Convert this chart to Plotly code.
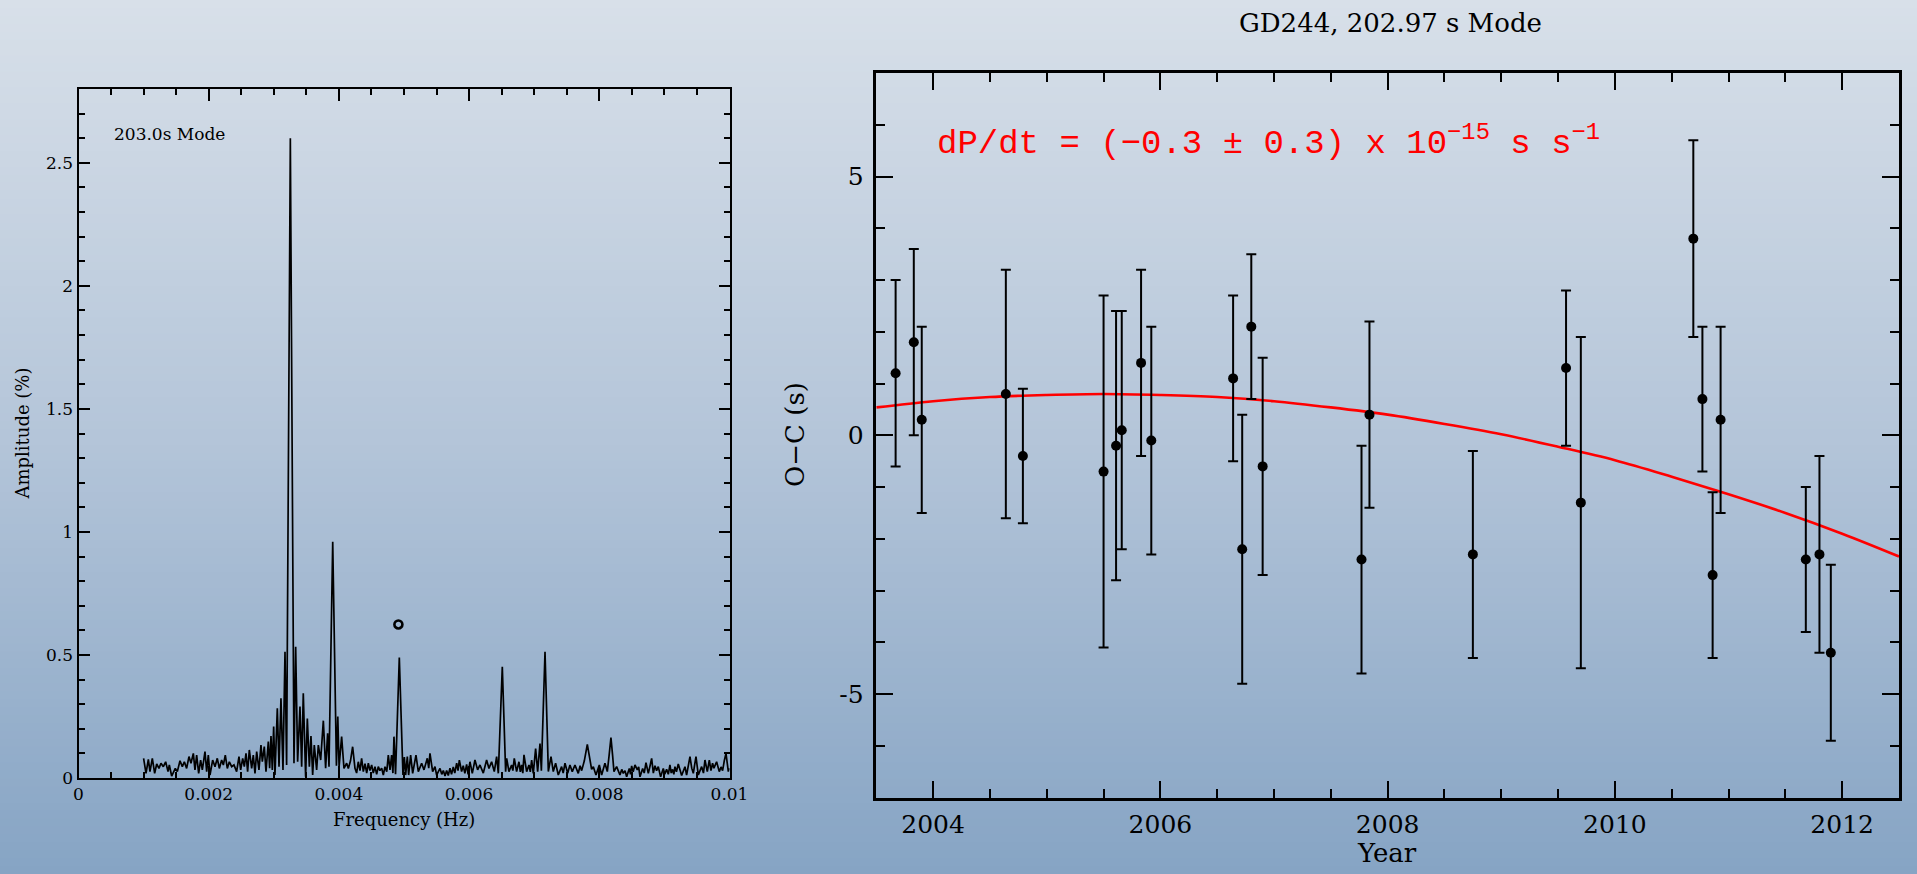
import plotly.graph_objects as go

W, H = 1917, 874

# ---------------- Left panel: amplitude spectrum ----------------
# frequency in micro-Hz, amplitude in percent
SPEC_FREQ_UHZ = [
    1000, 1037, 1073, 1098, 1134, 1170, 1201, 1236, 1267, 1303,
    1339, 1375, 1395, 1431, 1487, 1518, 1559, 1595, 1626, 1661,
    1697, 1728, 1764, 1789, 1815, 1846, 1876, 1902, 1943, 1969,
    1994, 2020, 2061, 2097, 2132, 2163, 2199, 2225, 2255, 2286,
    2317, 2353, 2388, 2429, 2465, 2491, 2522, 2547, 2573, 2598,
    2624, 2660, 2685, 2711, 2737, 2772, 2803, 2824, 2854, 2880,
    2916, 2936, 2957, 2977, 2998, 3018, 3054, 3080, 3110, 3141,
    3172, 3197, 3254, 3310, 3336, 3366, 3402, 3428, 3453, 3489,
    3515, 3546, 3571, 3597, 3622, 3658, 3684, 3720, 3761, 3796,
    3827, 3848, 3905, 3962, 3983, 4003, 4042, 4078, 4119, 4145,
    4178, 4211, 4247, 4272, 4298, 4324, 4349, 4375, 4401, 4427,
    4452, 4477, 4503, 4528, 4554, 4580, 4605, 4630, 4657, 4682,
    4708, 4735, 4759, 4785, 4810, 4830, 4846, 4870, 4928, 4984,
    5005, 5025, 5051, 5071, 5102, 5133, 5184, 5220, 5271, 5307,
    5358, 5380, 5399, 5440, 5476, 5501, 5553, 5580, 5604, 5630,
    5655, 5680, 5706, 5730, 5757, 5780, 5809, 5830, 5850, 5885,
    5910, 5935, 5962, 5985, 6013, 6049, 6090, 6131, 6167, 6218,
    6269, 6305, 6346, 6387, 6423, 6449, 6510, 6561, 6577, 6612,
    6653, 6672, 6694, 6730, 6766, 6787, 6807, 6825, 6843, 6884,
    6920, 6940, 6961, 6986, 7022, 7053, 7089, 7110, 7166, 7217,
    7258, 7293, 7329, 7370, 7421, 7445, 7473, 7514, 7549, 7585,
    7626, 7677, 7705, 7729, 7770, 7790, 7816, 7840, 7857, 7882,
    7908, 7949, 8000, 8036, 8087, 8123, 8150, 8179, 8205, 8225,
    8266, 8317, 8345, 8369, 8395, 8420, 8461, 8480, 8497, 8520,
    8548, 8584, 8605, 8625, 8666, 8690, 8717, 8753, 8780, 8804,
    8830, 8855, 8880, 8906, 8942, 8983, 9005, 9034, 9060, 9085,
    9105, 9126, 9145, 9162, 9185, 9213, 9265, 9316, 9341, 9393,
    9420, 9444, 9485, 9521, 9572, 9600, 9623, 9659, 9690, 9715,
    9740, 9761, 9802, 9843, 9870, 9894, 9920, 9946, 9982, 10000,
]
SPEC_AMP_PCT = [
    0.080, 0.019, 0.076, 0.026, 0.080, 0.019, 0.057, 0.039, 0.060, 0.046,
    0.066, 0.026, 0.053, 0.008, 0.039, 0.026, 0.070, 0.046, 0.066, 0.039,
    0.087, 0.060, 0.100, 0.033, 0.093, 0.019, 0.073, 0.033, 0.107, 0.026,
    0.093, 0.012, 0.073, 0.046, 0.080, 0.039, 0.073, 0.053, 0.093, 0.039,
    0.066, 0.046, 0.053, 0.026, 0.087, 0.033, 0.080, 0.046, 0.100, 0.026,
    0.114, 0.039, 0.093, 0.019, 0.107, 0.033, 0.134, 0.066, 0.128, 0.026,
    0.148, 0.040, 0.171, 0.033, 0.209, 0.012, 0.283, 0.046, 0.324, 0.033,
    0.513, 0.053, 2.600, 0.060, 0.533, 0.066, 0.290, 0.046, 0.344, 0.005,
    0.242, 0.046, 0.171, 0.012, 0.134, 0.033, 0.134, 0.073, 0.233, 0.040,
    0.182, 0.046, 0.960, 0.050, 0.250, 0.046, 0.168, 0.039, 0.060, 0.039,
    0.070, 0.127, 0.039, 0.020, 0.066, 0.030, 0.080, 0.026, 0.058, 0.020,
    0.060, 0.030, 0.053, 0.020, 0.046, 0.015, 0.046, 0.030, 0.040, 0.012,
    0.046, 0.026, 0.093, 0.033, 0.093, 0.020, 0.168, 0.015, 0.490, 0.012,
    0.085, 0.012, 0.087, 0.012, 0.093, 0.019, 0.093, 0.026, 0.060, 0.033,
    0.080, 0.040, 0.100, 0.026, 0.046, 0.012, 0.039, 0.015, 0.030, 0.008,
    0.030, 0.010, 0.040, 0.015, 0.045, 0.020, 0.060, 0.030, 0.073, 0.026,
    0.050, 0.019, 0.055, 0.015, 0.066, 0.019, 0.073, 0.033, 0.053, 0.020,
    0.073, 0.039, 0.066, 0.026, 0.087, 0.019, 0.452, 0.026, 0.080, 0.026,
    0.053, 0.030, 0.080, 0.026, 0.066, 0.025, 0.053, 0.020, 0.094, 0.026,
    0.053, 0.025, 0.073, 0.019, 0.120, 0.026, 0.140, 0.030, 0.513, 0.026,
    0.087, 0.026, 0.060, 0.012, 0.046, 0.020, 0.060, 0.019, 0.053, 0.026,
    0.053, 0.019, 0.050, 0.030, 0.070, 0.100, 0.137, 0.100, 0.073, 0.035,
    0.046, 0.012, 0.053, 0.012, 0.060, 0.026, 0.090, 0.164, 0.090, 0.026,
    0.046, 0.012, 0.035, 0.019, 0.030, 0.005, 0.039, 0.015, 0.049, 0.025,
    0.053, 0.033, 0.045, 0.005, 0.039, 0.020, 0.062, 0.019, 0.050, 0.080,
    0.020, 0.050, 0.030, 0.046, 0.005, 0.039, 0.015, 0.035, 0.015, 0.053,
    0.020, 0.035, 0.015, 0.046, 0.025, 0.057, 0.010, 0.046, 0.012, 0.087,
    0.040, 0.019, 0.087, 0.012, 0.046, 0.020, 0.073, 0.026, 0.073, 0.030,
    0.060, 0.040, 0.066, 0.026, 0.045, 0.030, 0.070, 0.100, 0.026, 0.040,
]
MODE_MARK_FREQ_UHZ = [4914]
MODE_MARK_AMP_PCT = [0.624]

FREQ_TICKS = [0, 0.002, 0.004, 0.006, 0.008, 0.01]
FREQ_TICK_TEXT = ["0", "0.002", "0.004", "0.006", "0.008", "0.01"]
AMP_TICKS = [0, 0.5, 1, 1.5, 2, 2.5]
AMP_TICK_TEXT = ["0", "0.5", "1", "1.5", "2", "2.5"]

# ---------------- Right panel: O-C diagram ----------------
YEAR = [2003.67, 2003.83, 2003.90, 2004.64, 2004.79, 2005.50, 2005.61, 2005.66,
        2005.83, 2005.92, 2006.64, 2006.72, 2006.80, 2006.90, 2007.77, 2007.84,
        2008.75, 2009.57, 2009.70, 2010.69, 2010.77, 2010.86, 2010.93, 2011.68,
        2011.80, 2011.90]
OC_S = [1.2, 1.8, 0.3, 0.8, -0.4, -0.7, -0.2, 0.1,
        1.4, -0.1, 1.1, -2.2, 2.1, -0.6, -2.4, 0.4,
        -2.3, 1.3, -1.3, 3.8, 0.7, -2.7, 0.3, -2.4,
        -2.3, -4.2]
OC_ERR_S = [1.8, 1.8, 1.8, 2.4, 1.3, 3.4, 2.6, 2.3,
            1.8, 2.2, 1.6, 2.6, 1.4, 2.1, 2.2, 1.8,
            2.0, 1.5, 3.2, 1.9, 1.4, 1.6, 1.8, 1.4,
            1.9, 1.7]
FIT_YEAR = [2003.5, 2004.0, 2004.5, 2005.0, 2005.5, 2006.0, 2006.5, 2007.0,
            2007.5, 2008.0, 2008.5, 2009.0, 2009.5, 2010.0, 2010.5, 2011.0,
            2011.5, 2012.0, 2012.5]
FIT_OC_S = [0.54, 0.66, 0.74, 0.78, 0.80, 0.78, 0.74, 0.66,
            0.54, 0.40, 0.22, 0.02, -0.22, -0.48, -0.80, -1.14,
            -1.50, -1.90, -2.34]
YEAR_TICKS = [2004, 2006, 2008, 2010, 2012]
OC_TICKS = [-5, 0, 5]
OC_TICK_TEXT = ["-5", "0", "5"]

TITLE_RIGHT = "GD244, 202.97 s Mode"
LABEL_LEFT = "203.0s Mode"
FIT_TEXT = "dP/dt = (\u22120.3 \u00b1 0.3) x 10<sup>\u221215</sup> s s<sup>\u22121</sup>"

# ---------------- figure ----------------
SERIF = "DejaVu Serif"


def px(x):
    return x / W


def py(y):
    return 1 - y / H


fig = go.Figure()

fig.add_trace(go.Scatter(
    x=[f / 1e6 for f in SPEC_FREQ_UHZ], y=SPEC_AMP_PCT, mode="lines",
    line=dict(color="black", width=1.7), xaxis="x", yaxis="y",
    hoverinfo="skip", showlegend=False))
fig.add_trace(go.Scatter(
    x=[f / 1e6 for f in MODE_MARK_FREQ_UHZ], y=MODE_MARK_AMP_PCT, mode="markers",
    marker=dict(symbol="circle-open", size=8, color="black", line=dict(width=2.6)),
    xaxis="x", yaxis="y", hoverinfo="skip", showlegend=False))

fig.add_trace(go.Scatter(
    x=FIT_YEAR, y=FIT_OC_S, mode="lines",
    line=dict(color="#ff0000", width=2.6, shape="spline"),
    xaxis="x2", yaxis="y2", hoverinfo="skip", showlegend=False))
fig.add_trace(go.Scatter(
    x=YEAR, y=OC_S, mode="markers",
    marker=dict(symbol="circle", size=10, color="black"),
    error_y=dict(type="data", array=OC_ERR_S, visible=True,
                 thickness=2, width=5, color="black"),
    xaxis="x2", yaxis="y2", hoverinfo="skip", showlegend=False))

# background gradient (vertical), drawn as thin bands
STOPS = [(0.0, (216, 224, 233)), (0.5, (180, 197, 217)), (1.0, (134, 164, 196))]


def grad(t):
    for (t0, c0), (t1, c1) in zip(STOPS[:-1], STOPS[1:]):
        if t0 <= t <= t1:
            u = (t - t0) / (t1 - t0)
            return "rgb(%d,%d,%d)" % tuple(round(a + (b - a) * u) for a, b in zip(c0, c1))
    return "rgb(%d,%d,%d)" % STOPS[-1][1]


NB = 110
shapes = []
for i in range(NB):
    y0 = i / NB
    y1 = (i + 1) / NB
    shapes.append(dict(type="rect", xref="paper", yref="paper", x0=-0.01, x1=1.01,
                       y0=1 - y1 - 0.001, y1=1 - y0, layer="below",
                       line=dict(width=0), fillcolor=grad((i + 0.5) / NB)))

L_X0, L_X1, L_Y0, L_Y1 = 78.5, 729.5, 89, 778
R_X0, R_X1, R_Y0, R_Y1 = 876.3, 1899, 73, 797.7

small_font = dict(family=SERIF, size=17, color="black")
big_font = dict(family=SERIF, size=25, color="black")

common = dict(showline=True, linecolor="black", mirror="ticks", ticks="inside",
              tickcolor="black", showgrid=False, zeroline=False, automargin=False)

fig.update_layout(
    width=W, height=H, autosize=False,
    margin=dict(l=0, r=0, t=0, b=0, pad=0, autoexpand=False),
    paper_bgcolor="rgb(180,197,217)", plot_bgcolor="rgba(0,0,0,0)",
    shapes=shapes,
    xaxis=dict(domain=[px(L_X0), px(L_X1)], range=[0, 0.01], anchor="y",
               tickvals=FREQ_TICKS, ticktext=FREQ_TICK_TEXT, ticklen=12, tickwidth=1.5,
               linewidth=2, tickfont=small_font, ticklabelstandoff=0,
               minor=dict(dtick=0.0005, ticklen=6, tickwidth=1.5, ticks="inside",
                          tickcolor="black", showgrid=False),
               **common),
    yaxis=dict(domain=[py(L_Y1), py(L_Y0)], range=[0, 2.8], anchor="x",
               tickvals=AMP_TICKS, ticktext=AMP_TICK_TEXT, ticklen=11, tickwidth=1.5,
               linewidth=2, tickfont=small_font, ticklabelstandoff=0,
               minor=dict(dtick=0.1, ticklen=6, tickwidth=1.5, ticks="inside",
                          tickcolor="black", showgrid=False),
               **common),
    xaxis2=dict(domain=[px(R_X0), px(R_X1)], range=[2003.5, 2012.5], anchor="y2",
                tickvals=YEAR_TICKS, ticktext=[str(v) for v in YEAR_TICKS],
                ticklen=17, tickwidth=2, linewidth=2.5, tickfont=big_font,
                ticklabelstandoff=3,
                minor=dict(dtick=0.5, ticklen=9, tickwidth=2, ticks="inside",
                           tickcolor="black", showgrid=False),
                **common),
    yaxis2=dict(domain=[py(R_Y1), py(R_Y0)], range=[-7, 7], anchor="x2",
                tickvals=OC_TICKS, ticktext=OC_TICK_TEXT,
                ticklen=17, tickwidth=2, linewidth=2.5, tickfont=big_font,
                ticklabelstandoff=5,
                minor=dict(dtick=1, ticklen=9, tickwidth=2, ticks="inside",
                           tickcolor="black", showgrid=False),
                **common),
    annotations=[
        dict(text=LABEL_LEFT, xref="paper", yref="paper", x=px(111.5), y=py(134),
             xanchor="left", yanchor="middle", showarrow=False,
             font=dict(family=SERIF, size=17, color="black")),
        dict(text="Frequency (Hz)", xref="paper", yref="paper", x=px(404), y=py(819),
             xanchor="center", yanchor="middle", showarrow=False,
             font=dict(family=SERIF, size=18, color="black")),
        dict(text="Amplitude (%)", xref="paper", yref="paper", x=px(22), y=py(433.5),
             xanchor="center", yanchor="middle", showarrow=False, textangle=-90,
             font=dict(family=SERIF, size=18, color="black")),
        dict(text=TITLE_RIGHT, xref="paper", yref="paper", x=px(1390), y=py(23),
             xanchor="center", yanchor="middle", showarrow=False,
             font=dict(family=SERIF, size=26, color="black")),
        dict(text="Year", xref="paper", yref="paper", x=px(1387), y=py(853),
             xanchor="center", yanchor="middle", showarrow=False,
             font=dict(family=SERIF, size=26, color="black")),
        dict(text="O\u2212C (s)", xref="paper", yref="paper", x=px(795), y=py(435),
             xanchor="center", yanchor="middle", showarrow=False, textangle=-90,
             font=dict(family=SERIF, size=26, color="black")),
        dict(text=FIT_TEXT, xref="paper", yref="paper", x=px(935), y=py(141),
             xanchor="left", yanchor="middle", showarrow=False,
             font=dict(family="Liberation Mono", size=34, color="#ff0000")),
    ],
)

fig.write_html("out.html", config={"displayModeBar": False},
               post_script="document.body.style.margin='0px';"
                           "document.body.style.overflow='hidden';")
